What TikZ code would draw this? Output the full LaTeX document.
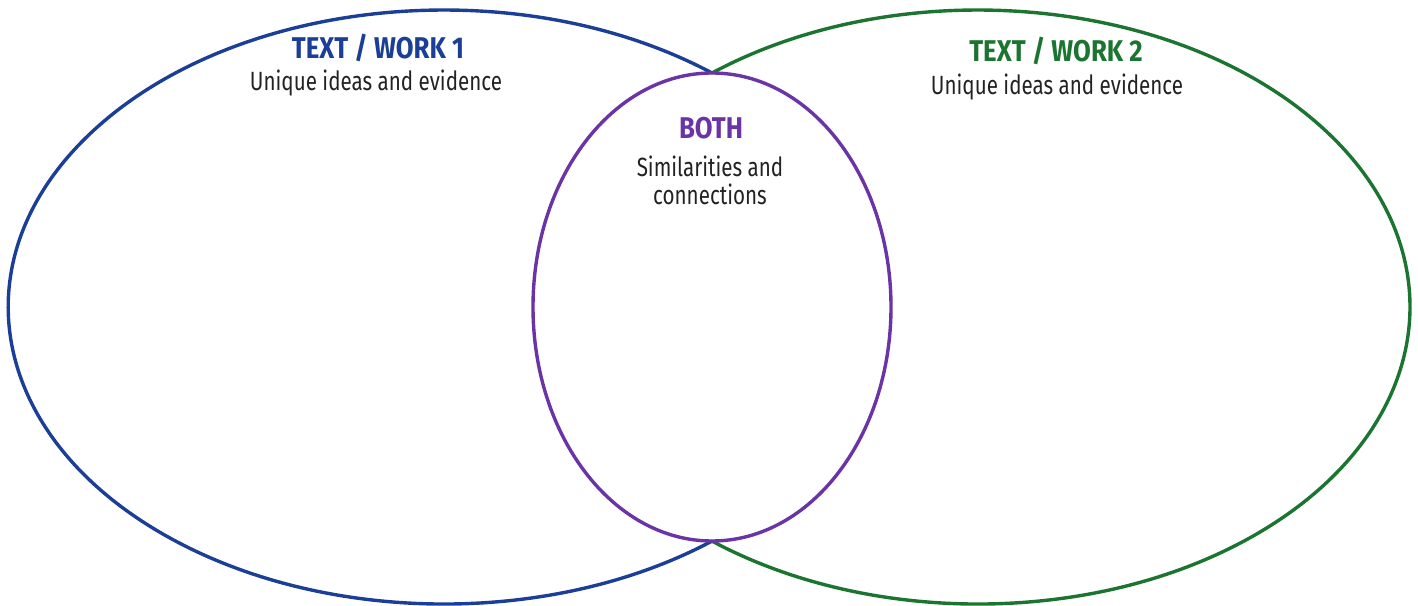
\documentclass[tikz,border=0pt]{standalone}
\usepackage{xcolor}
\usepackage{fontspec}
\setmainfont[FakeStretch=0.78]{Fira Sans}
\newfontfamily\headfont[FakeStretch=0.86]{Fira Sans}
\usepackage{tikz}

\definecolor{workblue}{RGB}{27,62,150}
\definecolor{workgreen}{RGB}{27,117,48}
\definecolor{bothpurple}{RGB}{107,52,166}
\definecolor{bodygray}{RGB}{34,34,34}

\tikzset{
    ring/.style={line width=1.7pt},
    heading/.style={font=\headfont\fontsize{15}{17}\selectfont\bfseries, anchor=base},
    subline/.style={font=\fontsize{13.2}{14}\selectfont, text=bodygray, anchor=base}
}

\begin{document}
\begin{tikzpicture}[x=0.5pt,y=0.5pt]
                    \useasboundingbox (0,0) rectangle (1418,605);
                    \coordinate (top) at (712,532);
                    \coordinate (bot) at (712,64);
                    \draw[ring, workblue] (top) arc[start angle=52, end angle=308, x radius=217.8pt, y radius=148.5pt];
                    \draw[ring, workgreen] (top) arc[start angle=128, end angle=-128, x radius=216pt, y radius=148.5pt];
                    \draw[ring, bothpurple] (712,298) ellipse[x radius=89.5pt, y radius=117pt];
                    \node[heading, text=workblue] (t1) at (378,546) {TEXT / WORK 1};
                    \node[subline] (s1) at (376,514) {Unique ideas and evidence};
                    \node[heading, text=workgreen] (t2) at (1056,543) {TEXT / WORK 2};
                    \node[subline] (s2) at (1057,510) {Unique ideas and evidence};
                    \node[heading, text=bothpurple] (both) at (711,466) {BOTH};
                    \node[subline, align=center] (sim) at (710,400) {Similarities and\\connections};
                \end{tikzpicture}
\end{document}
